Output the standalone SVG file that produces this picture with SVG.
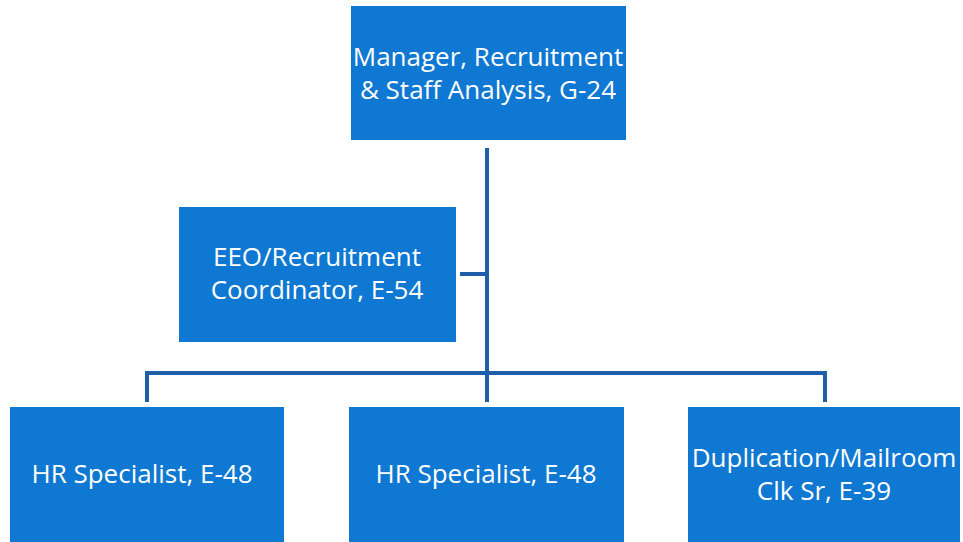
<svg xmlns="http://www.w3.org/2000/svg" width="963" height="542" viewBox="0 0 963 542">
<style>
.box{fill:#0f78d2;}
.t{font-family:"Open Sans","Liberation Sans",sans-serif;font-size:26px;fill:#ffffff;text-anchor:middle;}
.ln{stroke:#1d5fa9;stroke-width:4;fill:none;}
</style>
<rect width="963" height="542" fill="#ffffff"/>
<g id="connectors">
<line class="ln" x1="487" y1="148" x2="487" y2="402"/>
<line class="ln" x1="460" y1="274" x2="487" y2="274"/>
<polyline class="ln" points="147,402 147,373 825,373 825,402"/>
</g>
<g id="manager">
<rect class="box" x="351" y="6" width="275" height="134"/>
<text class="t" x="488" y="66">Manager, Recruitment</text>
<text class="t" x="488" y="99">&amp; Staff Analysis, G-24</text>
</g>
<g id="eeo">
<rect class="box" x="179" y="207" width="277" height="135"/>
<text class="t" x="317" y="266">EEO/Recruitment</text>
<text class="t" x="317" y="299">Coordinator, E-54</text>
</g>
<g id="hr1">
<rect class="box" x="10" y="407" width="274" height="135"/>
<text class="t" x="142" y="483">HR Specialist, E-48</text>
</g>
<g id="hr2">
<rect class="box" x="349" y="407" width="275" height="135"/>
<text class="t" x="486" y="483">HR Specialist, E-48</text>
</g>
<g id="dup">
<rect class="box" x="688" y="407" width="272" height="135"/>
<text class="t" x="824" y="467">Duplication/Mailroom</text>
<text class="t" x="824" y="500">Clk Sr, E-39</text>
</g>
</svg>
